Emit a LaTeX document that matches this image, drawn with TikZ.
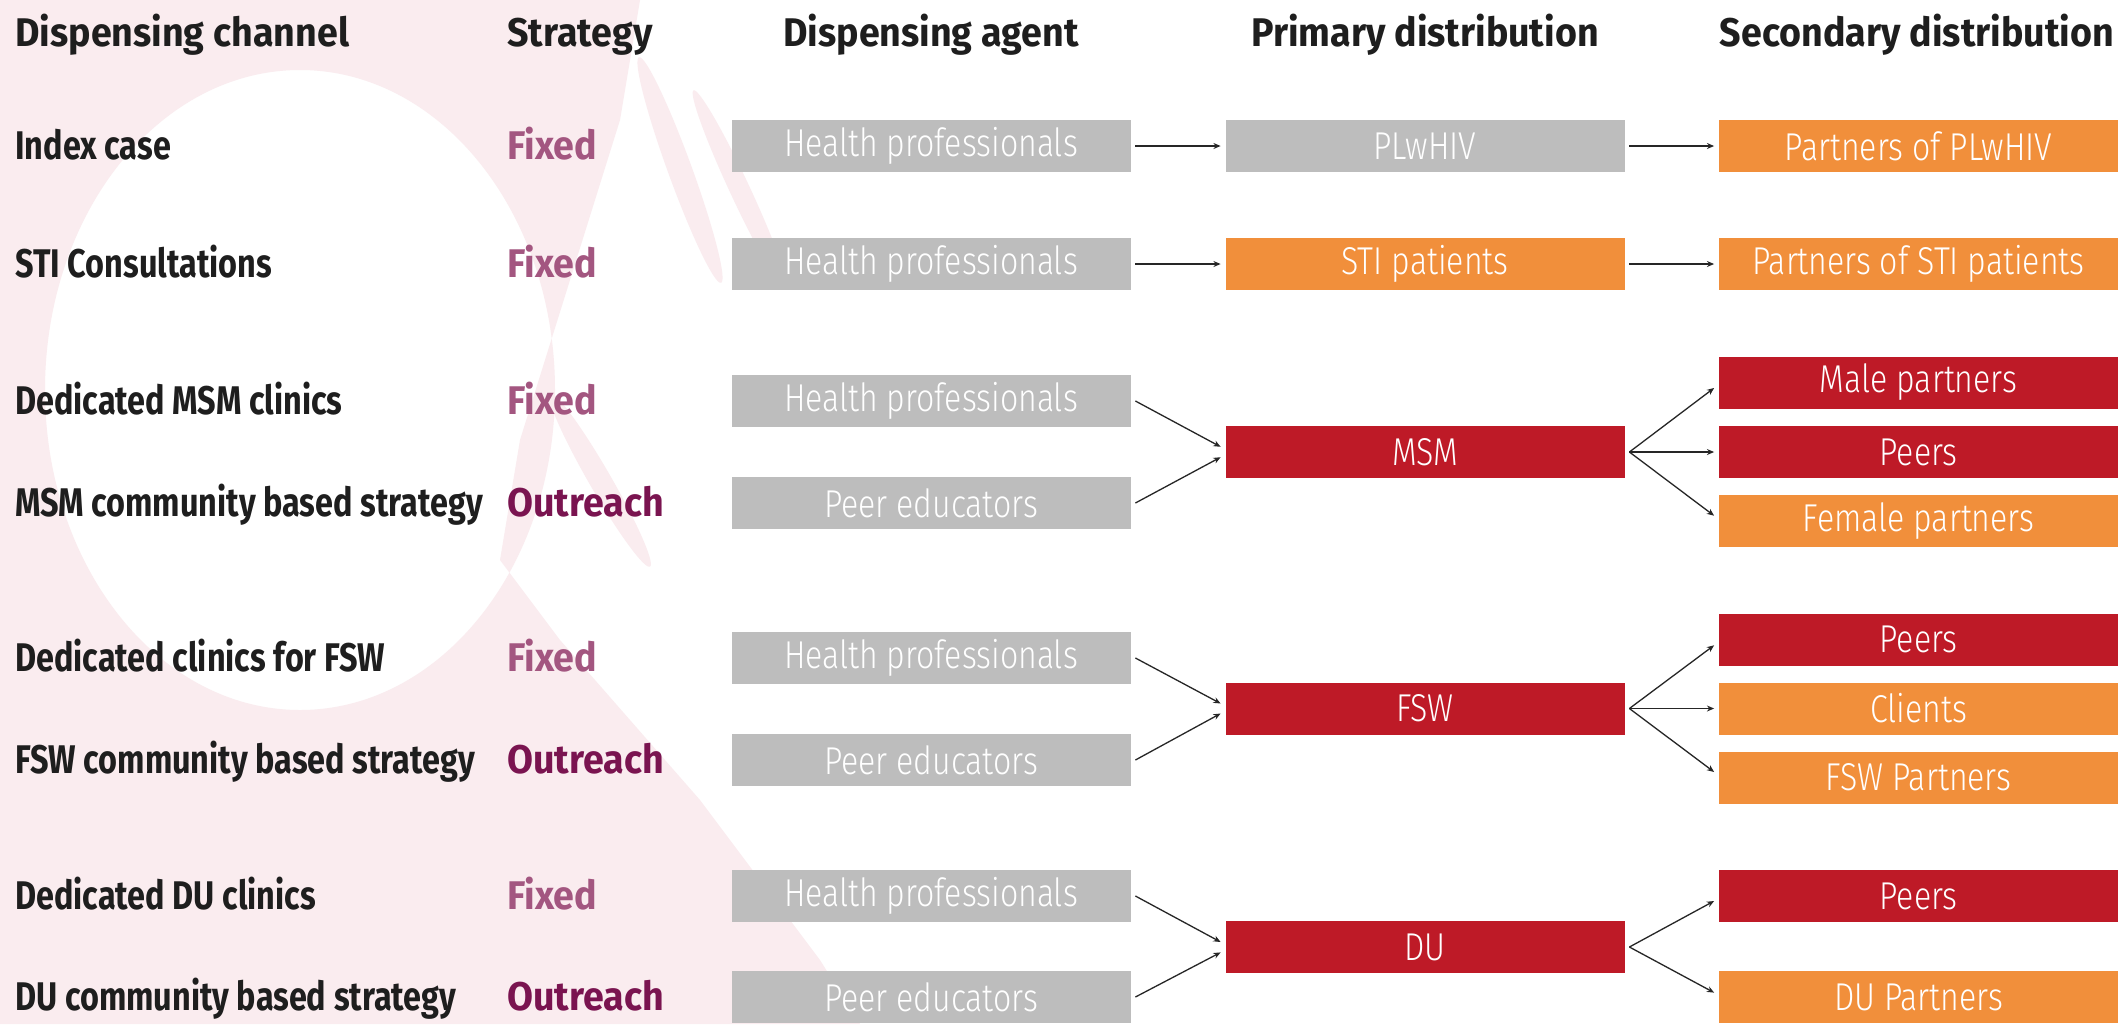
\documentclass[tikz,border=0pt]{standalone}
\usepackage{fontspec}
\setmainfont{Fira Sans}[FakeStretch=0.81]
\newfontfamily\hdrfont{Fira Sans}[FakeStretch=0.94]
\newfontfamily\boxfont{Fira Sans}[FakeStretch=0.826, UprightFont=* Light]
\usetikzlibrary{arrows.meta}
\definecolor{gbox}{RGB}{189,189,189}
\definecolor{obox}{RGB}{241,143,59}
\definecolor{rbox}{RGB}{190,26,39}
\definecolor{fixc}{RGB}{163,86,128}
\definecolor{outc}{RGB}{122,20,80}
\definecolor{pinkbg}{RGB}{250,236,239}
\definecolor{txt}{RGB}{30,30,30}
\begin{document}
\begin{tikzpicture}[x=0.5pt,y=-0.5pt,
  hdr/.style={font=\hdrfont\bfseries\fontsize{20}{24}\selectfont, text=txt, inner sep=0pt, anchor=base},
  lbl/.style={font=\bfseries\fontsize{20}{24}\selectfont, text=txt, anchor=base west, inner sep=0pt},
  fixs/.style={lbl, font=\hdrfont\bfseries\fontsize{20}{24}\selectfont, text=fixc},
  outs/.style={lbl, font=\hdrfont\bfseries\fontsize{20}{24}\selectfont, text=outc},
  bx/.style={minimum height=26pt, minimum width=199.5pt, inner sep=0pt, text=white, font=\boxfont\fontsize{19.4}{22}\selectfont},
  gb/.style={bx, fill=gbox},
  ob/.style={bx, fill=obox},
  rb/.style={bx, fill=rbox},
  arr/.style={-{Stealth[length=3.6pt,width=3pt]}, line width=0.65pt, draw=black!85}
]
% background
\fill[white] (0,0) rectangle (2120,1024);
\begin{scope}
\clip (0,0) rectangle (2120,1024);
\fill[pinkbg, even odd rule]
  (0,0) -- (640,0) -- (620,120) -- (570,280) -- (520,440) -- (500,560) -- (560,640) -- (700,800) -- (820,960) -- (860,1024) -- (0,1024) -- cycle
  (300,390) ellipse [x radius=255, y radius=320];
\fill[pinkbg, rotate around={-65:(740,190)}] (740,190) ellipse [x radius=110, y radius=10];
\fill[pinkbg, rotate around={-70:(680,170)}] (680,170) ellipse [x radius=120, y radius=12];
\fill[pinkbg, rotate around={-60:(600,480)}] (600,480) ellipse [x radius=100, y radius=11];
\end{scope}
\useasboundingbox (0,0) rectangle (2120,1024);

% headers
\node[hdr, anchor=base west] (h1) at (15,46) {Dispensing channel};
\node[hdr, anchor=base west] (h2) at (507,46) {Strategy};
\node[hdr] (h3) at (931,46) {Dispensing agent};
\node[hdr] (h4) at (1425,46) {Primary distribution};
\node[hdr] (h5) at (1917,46) {Secondary distribution};

% row labels and strategies
\node[lbl] (c1) at (15,159) {Index case};
\node[fixs] (t1) at (507,159) {Fixed};
\node[lbl] (c2) at (15,277) {STI Consultations};
\node[fixs] (t2) at (507,277) {Fixed};
\node[lbl] (c3) at (15,414) {Dedicated MSM clinics};
\node[fixs] (t3) at (507,414) {Fixed};
\node[lbl] (c4) at (15,516) {MSM community based strategy};
\node[outs] (t4) at (507,516) {Outreach};
\node[lbl] (c5) at (15,671) {Dedicated clinics for FSW};
\node[fixs] (t5) at (507,671) {Fixed};
\node[lbl] (c6) at (15,773) {FSW community based strategy};
\node[outs] (t6) at (507,773) {Outreach};
\node[lbl] (c7) at (15,909) {Dedicated DU clinics};
\node[fixs] (t7) at (507,909) {Fixed};
\node[lbl] (c8) at (15,1010) {DU community based strategy};
\node[outs] (t8) at (507,1010) {Outreach};

% agents
\node[gb] (a1) at (931,146) {Health professionals};
\node[gb] (a2) at (931,264) {Health professionals};
\node[gb] (a3) at (931,401) {Health professionals};
\node[gb] (a4) at (931,503) {Peer educators};
\node[gb] (a5) at (931,658) {Health professionals};
\node[gb] (a6) at (931,760) {Peer educators};
\node[gb] (a7) at (931,896) {Health professionals};
\node[gb] (a8) at (931,997) {Peer educators};

% primary
\node[gb] (p1) at (1425,146) {PLwHIV};
\node[ob] (p2) at (1425,264) {STI patients};
\node[rb] (p3) at (1425,452) {MSM};
\node[rb] (p4) at (1425,708.5) {FSW};
\node[rb] (p5) at (1425,947) {DU};

% secondary
\node[ob] (s1) at (1918.5,146) {Partners of PLwHIV};
\node[ob] (s2) at (1918.5,264) {Partners of STI patients};
\node[rb] (s3) at (1918.5,382.5) {Male partners};
\node[rb] (s4) at (1918.5,452) {Peers};
\node[ob] (s5) at (1918.5,521) {Female partners};
\node[rb] (s6) at (1918.5,639.5) {Peers};
\node[ob] (s7) at (1918.5,708.5) {Clients};
\node[ob] (s8) at (1918.5,777.5) {FSW Partners};
\node[rb] (s9) at (1918.5,896) {Peers};
\node[ob] (s10) at (1918.5,997) {DU Partners};

% arrows agent -> primary
\draw[arr] ([xshift=2.25pt]a1.east) -- ([xshift=-2.25pt]p1.west);
\draw[arr] ([xshift=2.25pt]a2.east) -- ([xshift=-2.25pt]p2.west);
\draw[arr] ([xshift=2.25pt]a3.east) -- ([xshift=-2.25pt,yshift=2.6pt]p3.west);
\draw[arr] ([xshift=2.25pt]a4.east) -- ([xshift=-2.25pt,yshift=-2.6pt]p3.west);
\draw[arr] ([xshift=2.25pt]a5.east) -- ([xshift=-2.25pt,yshift=2.5pt]p4.west);
\draw[arr] ([xshift=2.25pt]a6.east) -- ([xshift=-2.25pt,yshift=-2.5pt]p4.west);
\draw[arr] ([xshift=2.25pt]a7.east) -- ([xshift=-2.25pt,yshift=2.5pt]p5.west);
\draw[arr] ([xshift=2.25pt]a8.east) -- ([xshift=-2.25pt,yshift=-2.7pt]p5.west);

% arrows primary -> secondary
\draw[arr] ([xshift=2.25pt]p1.east) -- ([xshift=-2.25pt]s1.west);
\draw[arr] ([xshift=2.25pt]p2.east) -- ([xshift=-2.25pt]s2.west);
\draw[arr] ([xshift=2.25pt]p3.east) -- ([xshift=-2.25pt,yshift=-2.75pt]s3.west);
\draw[arr] ([xshift=2.25pt]p3.east) -- ([xshift=-2.25pt]s4.west);
\draw[arr] ([xshift=2.25pt]p3.east) -- ([xshift=-2.25pt,yshift=2.65pt]s5.west);
\draw[arr] ([xshift=2.25pt]p4.east) -- ([xshift=-2.25pt,yshift=-2.9pt]s6.west);
\draw[arr] ([xshift=2.25pt]p4.east) -- ([xshift=-2.25pt]s7.west);
\draw[arr] ([xshift=2.25pt]p4.east) -- ([xshift=-2.25pt,yshift=2.75pt]s8.west);
\draw[arr] ([xshift=2.25pt]p5.east) -- ([xshift=-2.25pt,yshift=-2.5pt]s9.west);
\draw[arr] ([xshift=2.25pt]p5.east) -- ([xshift=-2.25pt,yshift=2.2pt]s10.west);
\end{tikzpicture}
\end{document}
